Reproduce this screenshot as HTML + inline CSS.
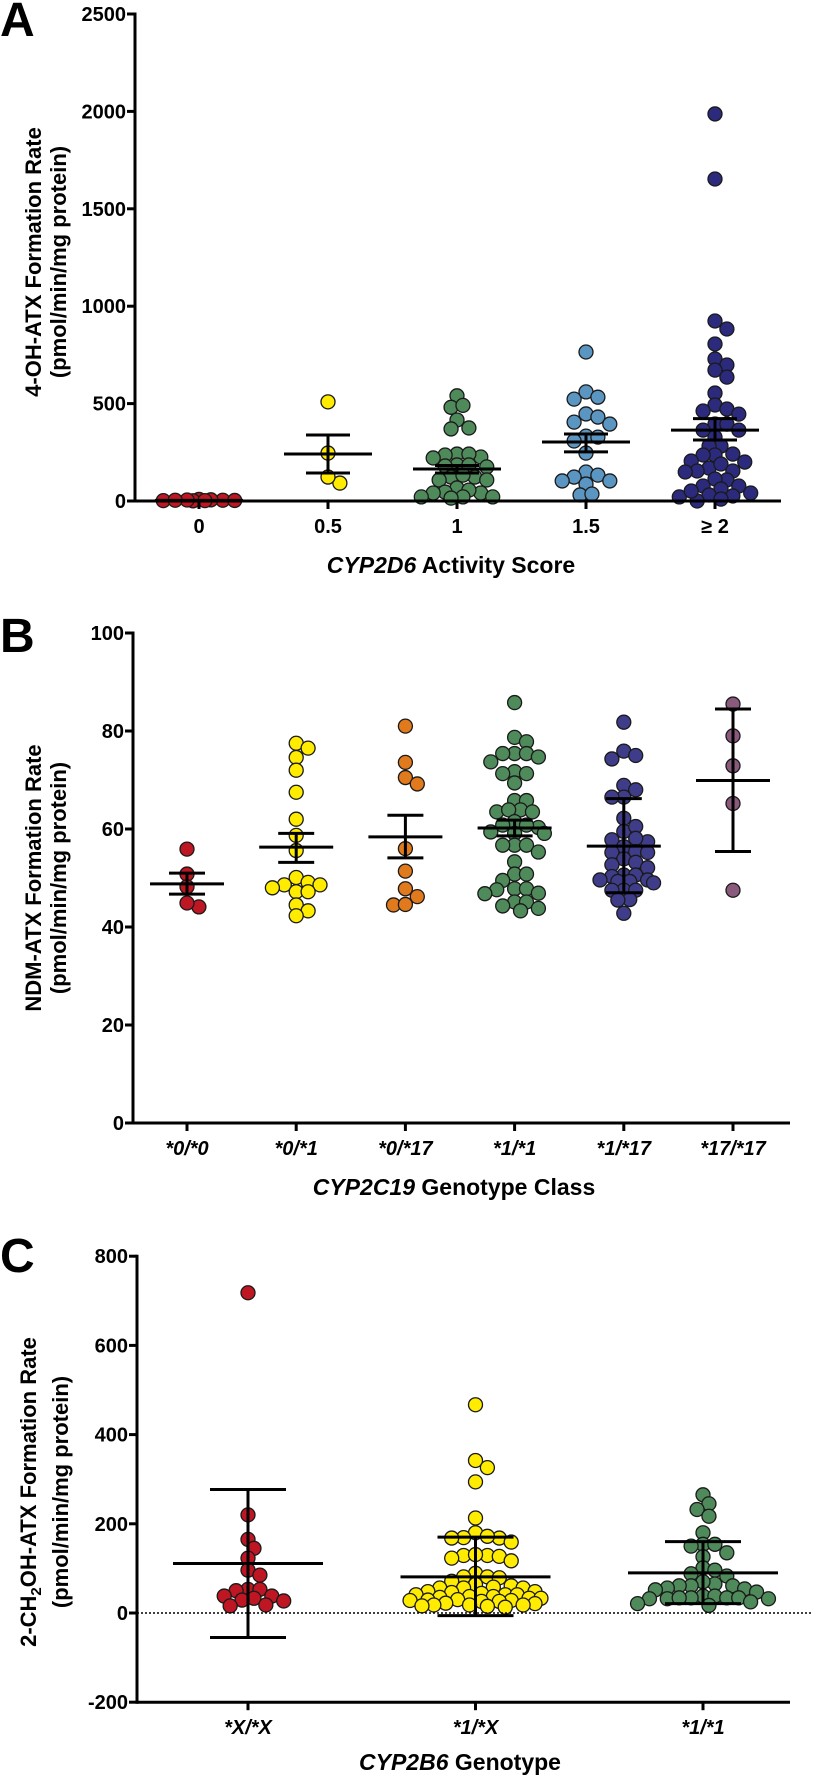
<!DOCTYPE html>
<html><head><meta charset="utf-8"><style>
html,body{margin:0;padding:0;background:#fff;}
svg{display:block;font-family:"Liberation Sans",Arial,sans-serif;font-weight:bold;}
</style></head><body>
<svg id="fig" width="813" height="1776" viewBox="0 0 813 1776" xmlns="http://www.w3.org/2000/svg">
<rect x="0" y="0" width="813" height="1776" fill="#fff"/>
</svg>
<script>
// ===== Panel A data =====
const catsA = ["0","0.5","1","1.5","\u2265 2"];
const redA = [2,4,6,3,8,1,5,2,4];
const yellowA = [509,246,92,123];
const greenA = [540,481,491,416,375,370,241,226,241,185,236,180,185,175,123,108,123,133,108,67,41,46,56,41,21,21,21,15,221];
const blueA = [765,560,523,533,447,431,405,395,333,328,308,246,149,133,123,103,87,103,31,36];
const navyA = [1987,1653,924,883,806,729,698,672,636,554,493,462,472,446,395,395,364,364,328,282,282,236,241,236,205,200,169,190,154,154,149,108,113,77,77,62,41,26,21,31,0,10,51];
const meanA = [3,241,164,303,364];
const errLoA = [0,144,144,252,313];
const errHiA = [0,339,182,344,423];
const ticksA = [0,500,1000,1500,2000,2500];

// ===== Panel B data =====
const catsB = ["*0/*0","*0/*1","*0/*17","*1/*1","*1/*17","*17/*17"];
const b00 = [55.9,50.8,48.2,44.1,44.9];
const b01 = [77.5,76.5,74.6,72.0,67.5,62.0,58.7,55.6,50.1,49.1,48.6,48.6,48.0,47.2,47.2,44.5,43.3,42.3];
const b017 = [81.0,73.6,70.5,69.2,56.0,51.4,47.8,46.2,44.5,44.6];
const b11 = [85.8,78.7,77.8,75.4,75.4,75.4,74.7,73.7,71.7,71.3,71.3,69.4,65.8,65.8,63.9,63.5,63.5,63.9,61.5,60.3,60.8,60.8,59.4,59.1,59.1,56.7,56.7,56.7,55.3,53.3,50.8,50.8,49.5,47.8,47.6,47.8,46.9,46.8,45.1,45.1,44.3,43.8,43.3];
const b117 = [81.8,75.9,75.0,74.3,68.9,68.0,66.5,66.5,62.2,59.5,60.5,57.8,57.4,58.1,56.4,55.4,55.2,55.2,53.9,53.2,52.1,52.7,50.6,50.6,50.3,49.6,49.3,49.3,49.6,49.0,47.5,47.5,47.5,45.6,45.5,42.8];
const b1717 = [85.5,79.0,72.9,65.2,47.5];
const meanB = [48.8,56.3,58.4,60.2,56.5,69.9];
const errLoB = [46.7,53.2,54.1,58.6,47.0,55.4];
const errHiB = [51.0,59.1,62.8,61.8,66.2,84.5];
const ticksB = [0,20,40,60,80,100];

// ===== Panel C data =====
const catsC = ["*X/*X","*1/*X","*1/*1"];
const cXX = [718,220,165,145,123,96,85,53,53,50,38,38,33,29,27,18,16];
const c1X = [467,342,326,294,213,180,169,168,168,172,159,129,127,129,131,123,117,89,81,79,81,71,64,61,58,56,56,56,48,48,46,44,41,41,41,37,37,35,33,33,30,29,28,28,26,26,22,21,18,18,18,16,15,13];
const c11 = [265,245,232,217,180,154,150,154,135,126,101,96,83,88,65,70,61,61,61,56,54,52,47,38,38,34,32,34,34,32,34,25,32,17,21];
const meanC = [111,81,90];
const errLoC = [-55,-6,21];
const errHiC = [277,170,160];
const ticksC = [-200,0,200,400,600,800];

const NS = "http://www.w3.org/2000/svg";
const svg = document.getElementById("fig");
function mk(tag, attrs, parent){
  const e = document.createElementNS(NS, tag);
  for (const k in attrs) e.setAttribute(k, attrs[k]);
  (parent||svg).appendChild(e);
  return e;
}
const R = 7;
function swarm(vals, yFn, cx, maxW){
  const order = vals.map((v,i)=>i).sort((a,b)=>vals[b]-vals[a]);
  const placed = [];
  const out = new Array(vals.length);
  const d = 2*R*0.75;
  const step = R*0.85;
  order.forEach(i=>{
    const y = yFn(vals[i]);
    let chosen = null, bestOff = 0, bestMin = -1;
    for (let k=0;k<80;k++){
      const off = (k===0)?0:(Math.ceil(k/2)*(k%2?1:-1))*step;
      if (Math.abs(off) > maxW) break;
      let minD = 1e9;
      for (const p of placed){
        const dx = p.x-(cx+off), dy = p.y-y;
        minD = Math.min(minD, Math.sqrt(dx*dx+dy*dy));
      }
      if (minD >= d){ chosen = off; break; }
      if (minD > bestMin){ bestMin = minD; bestOff = off; }
    }
    if (chosen===null) chosen = bestOff;
    placed.push({x:cx+chosen,y:y});
    out[i] = {x:cx+chosen,y:y};
  });
  return out;
}

function panel(cfg){
  const g = mk("g",{});
  
  
  cfg.groups.forEach((vals,gi)=>{
    const cx = cfg.x(gi);
    const pts = swarm(vals, cfg.y, cx, cfg.maxW);
    pts.forEach(p=>{
      const c = mk("circle",{cx:p.x,cy:p.y,r:R,fill:cfg.colors[gi],stroke:"#1a1a1a","stroke-width":1.3},g);
      
      
    });
  });
  cfg.means.forEach((m,gi)=>{
    const cx = cfg.x(gi);
    const eg = mk("g",{stroke:"#000","stroke-width":3},g);
    
    
    mk("line",{x1:cx-cfg.mh,x2:cx+cfg.mh,y1:cfg.y(m),y2:cfg.y(m)},eg);
    if (cfg.hi[gi]!==cfg.lo[gi]){
      mk("line",{x1:cx,x2:cx,y1:cfg.y(cfg.hi[gi]),y2:cfg.y(cfg.lo[gi])},eg);
      mk("line",{x1:cx-cfg.ch,x2:cx+cfg.ch,y1:cfg.y(cfg.hi[gi]),y2:cfg.y(cfg.hi[gi])},eg);
      mk("line",{x1:cx-cfg.ch,x2:cx+cfg.ch,y1:cfg.y(cfg.lo[gi]),y2:cfg.y(cfg.lo[gi])},eg);
    }
  });
  const ax = mk("g",{stroke:"#000","stroke-width":3,fill:"none"},g);
  
  
  const yTop = cfg.y(cfg.ticks[cfg.ticks.length-1]), yBot = cfg.y(cfg.ticks[0]);
  mk("line",{x1:cfg.ax,x2:cfg.ax,y1:yTop-1.5,y2:yBot+1.5},ax);
  mk("line",{x1:cfg.ax,x2:cfg.xEnd,y1:yBot,y2:yBot},ax);
  cfg.ticks.forEach(t=>{
    const yy = cfg.y(t);
    mk("line",{x1:cfg.ax-8,x2:cfg.ax,y1:yy,y2:yy},ax);
    const tl = mk("text",{x:cfg.ax-9,y:yy+7,"text-anchor":"end","font-size":20,fill:"#000"},g);
    tl.textContent = t;
    
    
  });
  cfg.cats.forEach((c,i)=>{
    const xx = cfg.x(i);
    mk("line",{x1:xx,x2:xx,y1:yBot,y2:yBot+8},ax);
    const tl = mk("text",{x:xx,y:yBot+32,"text-anchor":"middle","font-size":20,fill:"#000","font-style":cfg.italicCats?"italic":"normal"},g);
    tl.textContent = c;
    
    
  });
}

panel({name:"panel-a",cats:catsA,groups:[redA,yellowA,greenA,blueA,navyA],
  colors:["#be1622","#ffec00","#4f8a5b","#5b95c2","#2b2a7c"],
  means:meanA,lo:errLoA,hi:errHiA,ticks:ticksA,
  y:v=>501-v*0.1948, x:i=>199+i*129, ax:135, xEnd:781, mh:44, ch:22, maxW:40, italicCats:false});
panel({name:"panel-b",cats:catsB,groups:[b00,b01,b017,b11,b117,b1717],
  colors:["#be1622","#ffec00","#e07a1c","#4f8a5b","#3f3d8a","#8a5a7c"],
  means:meanB,lo:errLoB,hi:errHiB,ticks:ticksB,
  y:v=>1123-v*4.9, x:i=>187+i*109.2, ax:133, xEnd:790, mh:37, ch:18, maxW:32, italicCats:true});
panel({name:"panel-c",cats:catsC,groups:[cXX,c1X,c11],
  colors:["#be1622","#ffec00","#4f8a5b"],
  means:meanC,lo:errLoC,hi:errHiC,ticks:ticksC,
  y:v=>1613-v*0.446, x:i=>248+i*227.5, ax:137, xEnd:790, mh:75, ch:38, maxW:68, italicCats:true});
</script>
<svg style="position:absolute;left:0;top:0" width="813" height="1776">
  <line x1="137" x2="813" y1="1613" y2="1613" stroke="#000" stroke-width="1.5" stroke-dasharray="2,2"/>
  <text x="0" y="36" font-size="48">A</text>
  <text x="0" y="652" font-size="48">B</text>
  <text x="0" y="1272" font-size="48">C</text>
  <text transform="translate(41,262) rotate(-90)" text-anchor="middle" font-size="22">4-OH-ATX Formation Rate</text>
  <text transform="translate(66,262) rotate(-90)" text-anchor="middle" font-size="22">(pmol/min/mg protein)</text>
  <text transform="translate(41,878) rotate(-90)" text-anchor="middle" font-size="22">NDM-ATX Formation Rate</text>
  <text transform="translate(66,878) rotate(-90)" text-anchor="middle" font-size="22">(pmol/min/mg protein)</text>
  <text transform="translate(36,1492) rotate(-90)" text-anchor="middle" font-size="22">2-CH<tspan font-size="15" dy="5">2</tspan><tspan dy="-5">OH-ATX Formation Rate</tspan></text>
  <text transform="translate(68,1492) rotate(-90)" text-anchor="middle" font-size="22">(pmol/min/mg protein)</text>
  <text x="451" y="573" text-anchor="middle" font-size="23"><tspan font-style="italic">CYP2D6</tspan> Activity Score</text>
  <text x="454" y="1195" text-anchor="middle" font-size="23"><tspan font-style="italic">CYP2C19</tspan> Genotype Class</text>
  <text x="460" y="1770" text-anchor="middle" font-size="23"><tspan font-style="italic">CYP2B6</tspan> Genotype</text>
</svg>
</body></html>
